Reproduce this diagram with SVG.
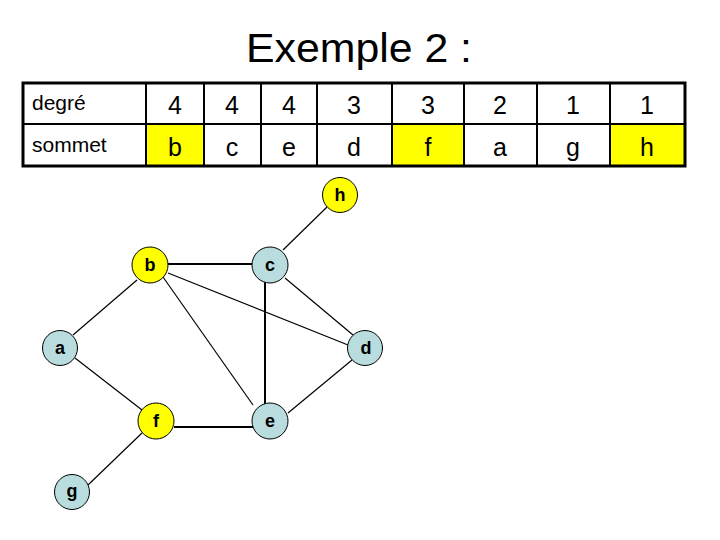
<svg xmlns="http://www.w3.org/2000/svg" width="720" height="540" viewBox="0 0 720 540">
<style>
.title{font-family:"Liberation Sans",Arial,sans-serif;font-size:40px;fill:#000}
.hdr{font-family:"Liberation Sans",Arial,sans-serif;font-size:21px;fill:#000}
.num{font-family:"Liberation Sans",Arial,sans-serif;font-size:25px;fill:#000;text-anchor:middle}
.grid{stroke:#000;stroke-width:2;fill:none}
.outer{stroke:#000;stroke-width:3;fill:none}
.hl{fill:#FFFF00}
.edge{stroke:#000;stroke-width:1.2;fill:none}
.edge2{stroke:#000;stroke-width:2;fill:none}
.ny{fill:#FFFF00;stroke:#000;stroke-width:1}
.nb{fill:#B9DCDF;stroke:#000;stroke-width:1}
.lbl{font-family:"Liberation Sans",Arial,sans-serif;font-size:18px;font-weight:bold;fill:#000;text-anchor:middle}
</style>
<rect width="720" height="540" fill="#fff"/>
<text class="title" x="246" y="62" textLength="226" lengthAdjust="spacingAndGlyphs">Exemple 2 :</text>
<g id="table">
<rect class="hl" x="146" y="124" width="58" height="42"/>
<rect class="hl" x="392" y="124" width="72" height="42"/>
<rect class="hl" x="610" y="124" width="75" height="42"/>
<line class="grid" x1="23" y1="124" x2="685" y2="124"/>
<line class="grid" x1="146" y1="83" x2="146" y2="166"/>
<line class="grid" x1="204" y1="83" x2="204" y2="166"/>
<line class="grid" x1="261" y1="83" x2="261" y2="166"/>
<line class="grid" x1="317" y1="83" x2="317" y2="166"/>
<line class="grid" x1="392" y1="83" x2="392" y2="166"/>
<line class="grid" x1="464" y1="83" x2="464" y2="166"/>
<line class="grid" x1="537" y1="83" x2="537" y2="166"/>
<line class="grid" x1="610" y1="83" x2="610" y2="166"/>
<rect class="outer" x="23" y="83" width="662" height="83"/>
<text class="hdr" x="32" y="110">degré</text>
<text class="hdr" x="32" y="152">sommet</text>
<text class="num" x="175" y="114">4</text>
<text class="num" x="232" y="114">4</text>
<text class="num" x="289" y="114">4</text>
<text class="num" x="354" y="114">3</text>
<text class="num" x="428" y="114">3</text>
<text class="num" x="500" y="114">2</text>
<text class="num" x="573" y="114">1</text>
<text class="num" x="647" y="114">1</text>
<text class="num" x="175" y="156">b</text>
<text class="num" x="232" y="156">c</text>
<text class="num" x="289" y="156">e</text>
<text class="num" x="354" y="156">d</text>
<text class="num" x="428" y="156">f</text>
<text class="num" x="500" y="156">a</text>
<text class="num" x="573" y="156">g</text>
<text class="num" x="647" y="156">h</text>
</g>
<g id="connectors">
<line class="edge" x1="327" y1="207" x2="283" y2="250"/>
<line class="edge2" x1="168" y1="264" x2="252" y2="264"/>
<line class="edge" x1="137" y1="280" x2="73" y2="335"/>
<line class="edge" x1="163" y1="277" x2="253" y2="405"/>
<line class="edge" x1="168" y1="273" x2="348" y2="345"/>
<line class="edge2" x1="265" y1="282" x2="265" y2="404"/>
<line class="edge" x1="285" y1="278" x2="353" y2="335"/>
<line class="edge" x1="75" y1="358" x2="142" y2="410"/>
<line class="edge2" x1="174" y1="427" x2="253" y2="427"/>
<line class="edge" x1="288" y1="413" x2="352" y2="360"/>
<line class="edge" x1="142" y1="433" x2="88" y2="485"/>
</g>
<g id="node-h"><circle class="ny" cx="340" cy="195" r="17.5"/><text class="lbl" x="340" y="201">h</text></g>
<g id="node-b"><circle class="ny" cx="150" cy="265" r="18"/><text class="lbl" x="150" y="271">b</text></g>
<g id="node-c"><circle class="nb" cx="270" cy="265" r="18"/><text class="lbl" x="270" y="271">c</text></g>
<g id="node-a"><circle class="nb" cx="60" cy="348" r="17.5"/><text class="lbl" x="60" y="354">a</text></g>
<g id="node-d"><circle class="nb" cx="365" cy="348" r="17.5"/><text class="lbl" x="366" y="354">d</text></g>
<g id="node-f"><circle class="ny" cx="156" cy="421" r="18"/><text class="lbl" x="156" y="427">f</text></g>
<g id="node-e"><circle class="nb" cx="270" cy="421" r="18"/><text class="lbl" x="270" y="427">e</text></g>
<g id="node-g"><circle class="nb" cx="72" cy="492" r="17.5"/><text class="lbl" x="72" y="497">g</text></g>
</svg>
